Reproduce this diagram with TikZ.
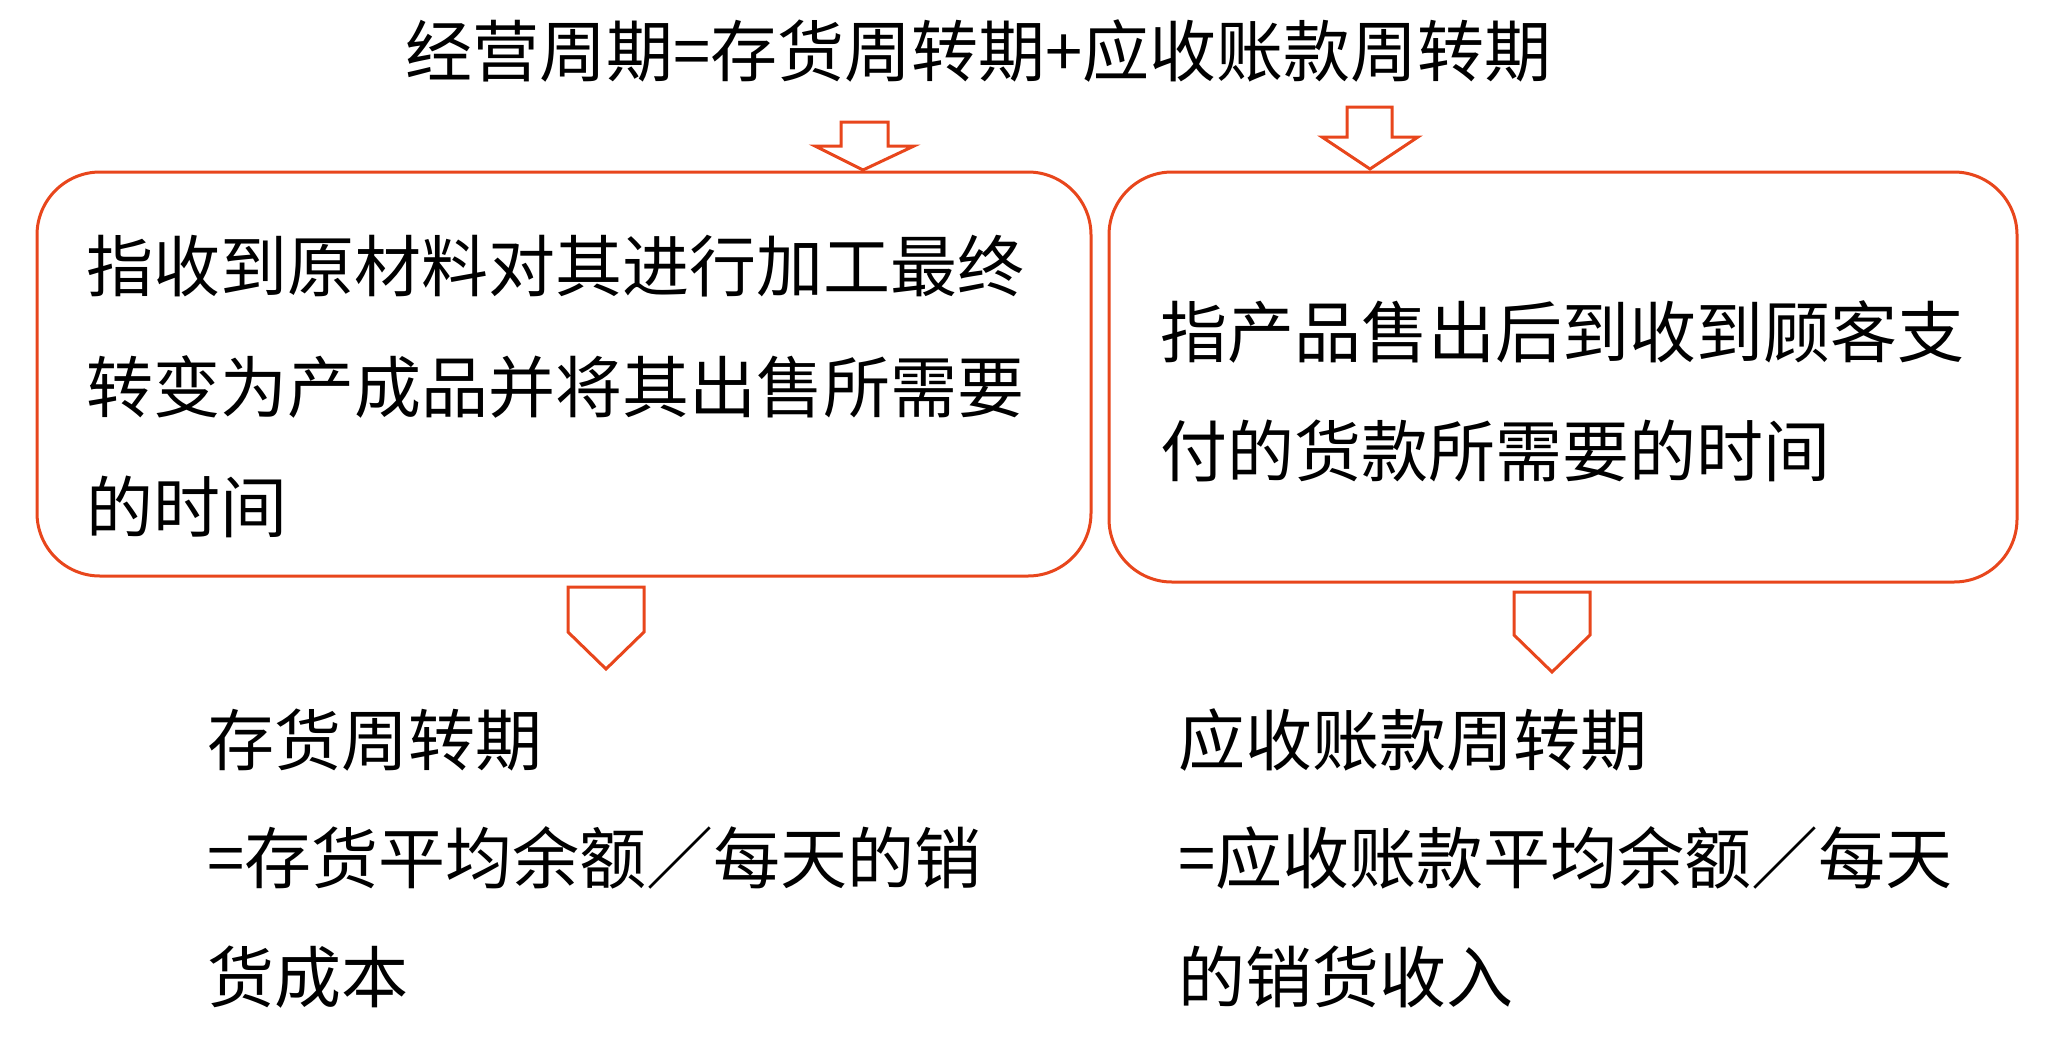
\documentclass[tikz,border=0pt]{standalone}
\usepackage{fontspec}
\setmainfont{Noto Sans CJK SC}
\definecolor{orred}{RGB}{232,70,28}
\tikzset{
  box/.style={draw=orred, line width=3pt, rounded corners=63pt, fill=white, inner sep=0pt},
  txt/.style={anchor=base west, inner sep=0pt, font=\fontsize{67pt}{80pt}\selectfont, text=black},
  blockarrow/.style={draw=orred, line width=3pt, fill=white, line join=miter}
}
\begin{document}
\begin{tikzpicture}[x=1pt,y=-1pt]
\useasboundingbox (0,0) rectangle (2053,1039);
% title
\node[txt] (title) at (405,76) {经营周期=存货周转期+应收账款周转期};
% boxes
\node[box, minimum width=1054pt, minimum height=404pt] (lbox) at (564,374) {};
\node[box, minimum width=908pt, minimum height=410pt] (rbox) at (1563,377) {};
% top block arrows
\draw[blockarrow] (841,122) -- (888,122) -- (888,146) -- (914,146) -- (863,170) -- (815,146) -- (841,146) -- cycle;
\draw[blockarrow] (1347,107) -- (1392,107) -- (1392,137) -- (1418,137) -- (1370,169) -- (1322,137) -- (1347,137) -- cycle;
% bottom pentagon arrows
\draw[blockarrow] (568,587) -- (644,587) -- (644,632) -- (606,669) -- (568,632) -- cycle;
\draw[blockarrow] (1514,592) -- (1590,592) -- (1590,635) -- (1552,672) -- (1514,635) -- cycle;
% left box text
\node[txt] (l1) at (86,291) {指收到原材料对其进行加工最终};
\node[txt] (l2) at (86,412) {转变为产成品并将其出售所需要};
\node[txt] (l3) at (86,532) {的时间};
% right box text
\node[txt] (r1) at (1160,357) {指产品售出后到收到顾客支};
\node[txt] (r2) at (1160,476) {付的货款所需要的时间};
% bottom left text
\node[txt] (bl1) at (207,765) {存货周转期};
\node[txt] (bl2) at (207,883) {=存货平均余额／每天的销};
\node[txt] (bl3) at (207,1002) {货成本};
% bottom right text
\node[txt] (br1) at (1178,765) {应收账款周转期};
\node[txt] (br2) at (1178,883) {=应收账款平均余额／每天};
\node[txt] (br3) at (1178,1002) {的销货收入};
\end{tikzpicture}
\end{document}
